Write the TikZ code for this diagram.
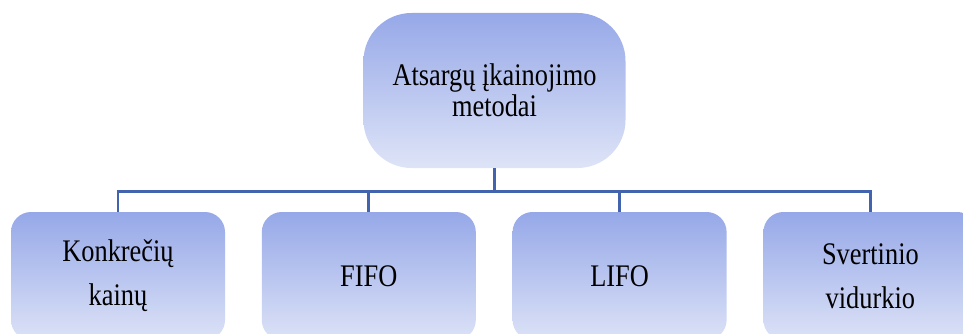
\documentclass[tikz,border=0pt]{standalone}
\usepackage{fontspec}
\setmainfont{Liberation Serif}
\newfontfamily\labelfont[FakeStretch=0.84]{Liberation Serif}
\usetikzlibrary{positioning}
\definecolor{shadetop}{RGB}{150,168,232}
\definecolor{shadebot}{RGB}{222,228,247}
\definecolor{linkblue}{RGB}{66,100,174}

\begin{document}
\begin{tikzpicture}[
            node distance=18pt,
            topbox/.style={rectangle, rounded corners=24pt, align=center, minimum width=131pt, minimum height=77.5pt, inner sep=2pt, top color=shadetop, bottom color=shadebot, font=\labelfont\fontsize{15.7}{13.6}\selectfont},
            method/.style={rectangle, rounded corners=10pt, align=center, minimum width=107pt, minimum height=64pt, inner sep=2pt, top color=shadetop, bottom color=shadebot!97!shadetop, font=\labelfont\fontsize{15.7}{22}\selectfont},
            link/.style={draw=linkblue, line width=1.35pt}
        ]
            \useasboundingbox (0,0) rectangle (481.5pt,166.5pt);

            % --- VIRSUS ---
            \node[topbox] (metodai) at (247.25pt,121.25pt) {Atsargų įkainojimo\\metodai};

            % --- METODAI ---
            \node[method] (konkreciu) at (59pt,28.5pt) {Konkrečių\\kainų};
            \node[method, right=of konkreciu] (fifo) {FIFO};
            \node[method, right=of fifo] (lifo) {LIFO};
            \node[method, right=of lifo] (svertinio) {Svertinio\\vidurkio};

            % --- LINIJOS ---
            \draw[link] (metodai.south) -- ++(0,-11.5pt) -| (konkreciu.north);
            \draw[link] (metodai.south) -- ++(0,-11.5pt) -| (fifo.north);
            \draw[link] (metodai.south) -- ++(0,-11.5pt) -| (lifo.north);
            \draw[link] (metodai.south) -- ++(0,-11.5pt) -| (svertinio.north);
        \end{tikzpicture}
\end{document}
